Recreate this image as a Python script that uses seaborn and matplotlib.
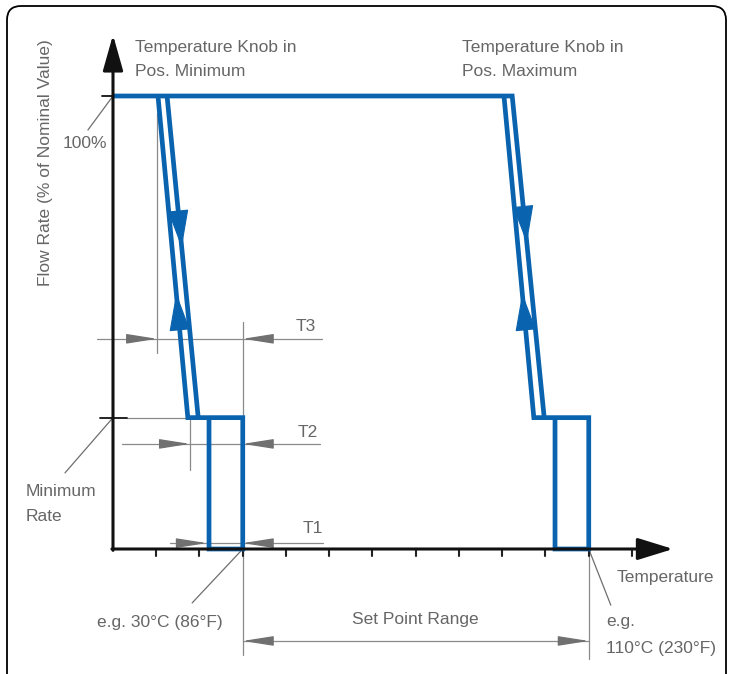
import matplotlib
matplotlib.use("Agg")
import matplotlib.pyplot as plt
from matplotlib.patches import FancyBboxPatch
import pandas as pd
import seaborn as sns

# ---------------------------
# diagram values (temperature in degC, flow in % of nominal)
# ---------------------------
flow_full = 100
flow_min = 29
set_low, set_high = 30, 110
tick_temps = [10, 20, 30, 40, 50, 60, 70, 80, 90, 100, 110, 120]

knob_min_up_t = [10.4, 17.3]      # opening branch, knob at minimum
knob_min_down_t = [12.5, 19.7]    # closing branch, knob at minimum
knob_max_up_t = [90.4, 97.3]
knob_max_down_t = [92.3, 99.7]
closing_min_t = [22.2, 30]        # closing band T1
closing_max_t = [102.2, 110]

t3_tip, t2_tip, t1_tip = 10.2, 17.8, 21.7
t3_flow, t2_flow, t1_flow = 46.4, 23.2, 1.3

BLUE = "#0a63ae"
GRAY = "#8a8a8a"
TXT = "#666666"

sns.set_theme(style="white")
plt.rcParams["font.family"] = ["Liberation Sans Narrow", "Liberation Sans", "DejaVu Sans"]

fig = plt.figure(figsize=(7.29, 6.74), dpi=100)
ax = fig.add_axes([0, 0, 1, 1])
ax.set_xlim(-113 / 4.325, (729 - 113) / 4.325)
ax.set_ylim(-(674 - 549) / 4.53, 549 / 4.53)

# outer rounded frame (pixel coords)
frame = FancyBboxPatch((7, -40), 719, 668 + 40, boxstyle="round,pad=0,rounding_size=14",
                       transform=None, fill=False, ec="black", lw=1.3, zorder=0)
fig.patches.append(frame)

# ---------------------------
# blue flow curves via seaborn
# ---------------------------
rows = []
def add_path(seg, ts, fs):
    for i, (t, f) in enumerate(zip(ts, fs)):
        rows.append({"seg": seg, "i": i, "temp": t, "flow": f})

add_path("top", [0, knob_max_down_t[0], knob_max_down_t[1]], [flow_full, flow_full, flow_min])
add_path("max_up", knob_max_up_t + [closing_max_t[1], closing_max_t[1], closing_max_t[0], closing_max_t[0]],
         [flow_full, flow_min, flow_min, 0, 0, flow_min])
add_path("min_up", knob_min_up_t + [closing_min_t[1], closing_min_t[1], closing_min_t[0], closing_min_t[0]],
         [flow_full, flow_min, flow_min, 0, 0, flow_min])
add_path("min_down", knob_min_down_t, [flow_full, flow_min])
df = pd.DataFrame(rows)
sns.lineplot(data=df, x="temp", y="flow", units="seg", estimator=None, sort=False,
             color=BLUE, lw=3.4, ax=ax, zorder=5, solid_joinstyle="miter", solid_capstyle="butt")
ax.axis("off")


def on_line(ts, f):
    return ts[0] + (flow_full - f) / (flow_full - flow_min) * (ts[1] - ts[0])


def flow_arrow(ts, tip_f, back_f):
    ax.annotate("", xy=(on_line(ts, tip_f), tip_f), xytext=(on_line(ts, back_f), back_f),
                arrowprops=dict(arrowstyle="-|>,head_length=2.5,head_width=0.68", mutation_scale=10,
                                color=BLUE, lw=0.8, shrinkA=0, shrinkB=0), zorder=6)

flow_arrow(knob_min_down_t, 66.5, 85)
flow_arrow(knob_min_up_t, 56.5, 40)
flow_arrow(knob_max_down_t, 67.5, 85)
flow_arrow(knob_max_up_t, 56.5, 40)

# ---------------------------
# axes with arrowheads
# ---------------------------
ax.annotate("", xy=(0, 113.5), xytext=(0, -0.3),
            arrowprops=dict(arrowstyle="-|>,head_length=2.2,head_width=0.62", mutation_scale=10,
                            color="#111111", lw=2.2, shrinkA=0, shrinkB=0), zorder=7)
ax.annotate("", xy=(129.5, 0), xytext=(-0.25, 0),
            arrowprops=dict(arrowstyle="-|>,head_length=2.2,head_width=0.68", mutation_scale=10,
                            color="#111111", lw=2.2, shrinkA=0, shrinkB=0), zorder=7)
for t in tick_temps:
    ax.plot([t, t], [0, -1.5], color="#222222", lw=1.5, zorder=4)
ax.plot([-2.5, 0], [flow_full, flow_full], color="#111111", lw=1.3, zorder=4)
ax.plot([-3, 3.2], [flow_min, flow_min], color="#111111", lw=1.3, zorder=4)

# ---------------------------
# gray dimension lines
# ---------------------------
glw = 0.9
ax.plot([3.2, knob_min_up_t[1]], [flow_min, flow_min], color=GRAY, lw=glw, zorder=3)
ax.plot([t3_tip, t3_tip], [96.2, 43.3], color=GRAY, lw=glw, zorder=3)
ax.plot([set_low, set_low], [50.1, -23.4], color=GRAY, lw=glw, zorder=3)
ax.plot([t2_tip, t2_tip], [flow_min, 17.4], color=GRAY, lw=glw, zorder=3)
ax.plot([set_high, set_high], [0, -24.3], color=GRAY, lw=glw, zorder=3)


def dim_arrow(tip, tail, f):
    ax.annotate("", xy=(tip, f), xytext=(tail, f),
                arrowprops=dict(arrowstyle="-|>,head_length=1.9,head_width=0.3", mutation_scale=10,
                                color="#707070", lw=glw, shrinkA=0, shrinkB=0), zorder=3)

for (x0, x1, tip, f) in [(-3.7, 48.3, t3_tip, t3_flow), (2.1, 47.9, t2_tip, t2_flow),
                         (13.2, 48.6, t1_tip, t1_flow)]:
    ax.plot([x0, x1], [f, f], color=GRAY, lw=glw, zorder=3)
    dim_arrow(tip, tip - 6, f)
    dim_arrow(set_low, set_low + 6.2, f)

ax.plot([set_low, set_high], [-20.3, -20.3], color=GRAY, lw=glw, zorder=3)
dim_arrow(set_low, set_low + 6.2, -20.3)
dim_arrow(set_high, set_high - 6.2, -20.3)

# leader lines
lead = dict(color="#6e6e6e", lw=0.9, zorder=3)
ax.plot([0, -5.8], [flow_full, 92.5], **lead)
ax.plot([0, -11.1], [flow_min, 16.8], **lead)
ax.plot([set_low, 18.3], [0, -11.9], **lead)
ax.plot([set_high, 115.1], [0, -12.4], **lead)

# ---------------------------
# texts
# ---------------------------
fs = 12.5
tk = dict(color=TXT, fontsize=fs, va="center")
ax.text(5.1, 110.8, "Temperature Knob in", ha="left", **tk)
ax.text(5.1, 105.3, "Pos. Minimum", ha="left", **tk)
ax.text(80.7, 110.8, "Temperature Knob in", ha="left", **tk)
ax.text(80.7, 105.3, "Pos. Maximum", ha="left", **tk)
ax.text(-1.4, 89.6, "100%", ha="right", **tk)
ax.text(-20.3, 12.8, "Minimum", ha="left", **tk)
ax.text(-20.3, 7.1, "Rate", ha="left", **tk)
ax.text(-15.7, 85.4, "Flow Rate (% of Nominal Value)", ha="center", rotation=90, **tk)
ax.text(44.6, 49.2, "T3", ha="center", **tk)
ax.text(45.1, 25.8, "T2", ha="center", **tk)
ax.text(46.2, 4.6, "T1", ha="center", **tk)
ax.text(116.5, -6.2, "Temperature", ha="left", **tk)
ax.text(25.4, -16.3, "e.g. 30°C (86°F)", ha="right", **tk)
ax.text(69.8, -15.5, "Set Point Range", ha="center", **tk)
ax.text(114, -15.9, "e.g.", ha="left", **tk)
ax.text(114, -21.9, "110°C (230°F)", ha="left", **tk)

fig.savefig("out.png", dpi=100)
